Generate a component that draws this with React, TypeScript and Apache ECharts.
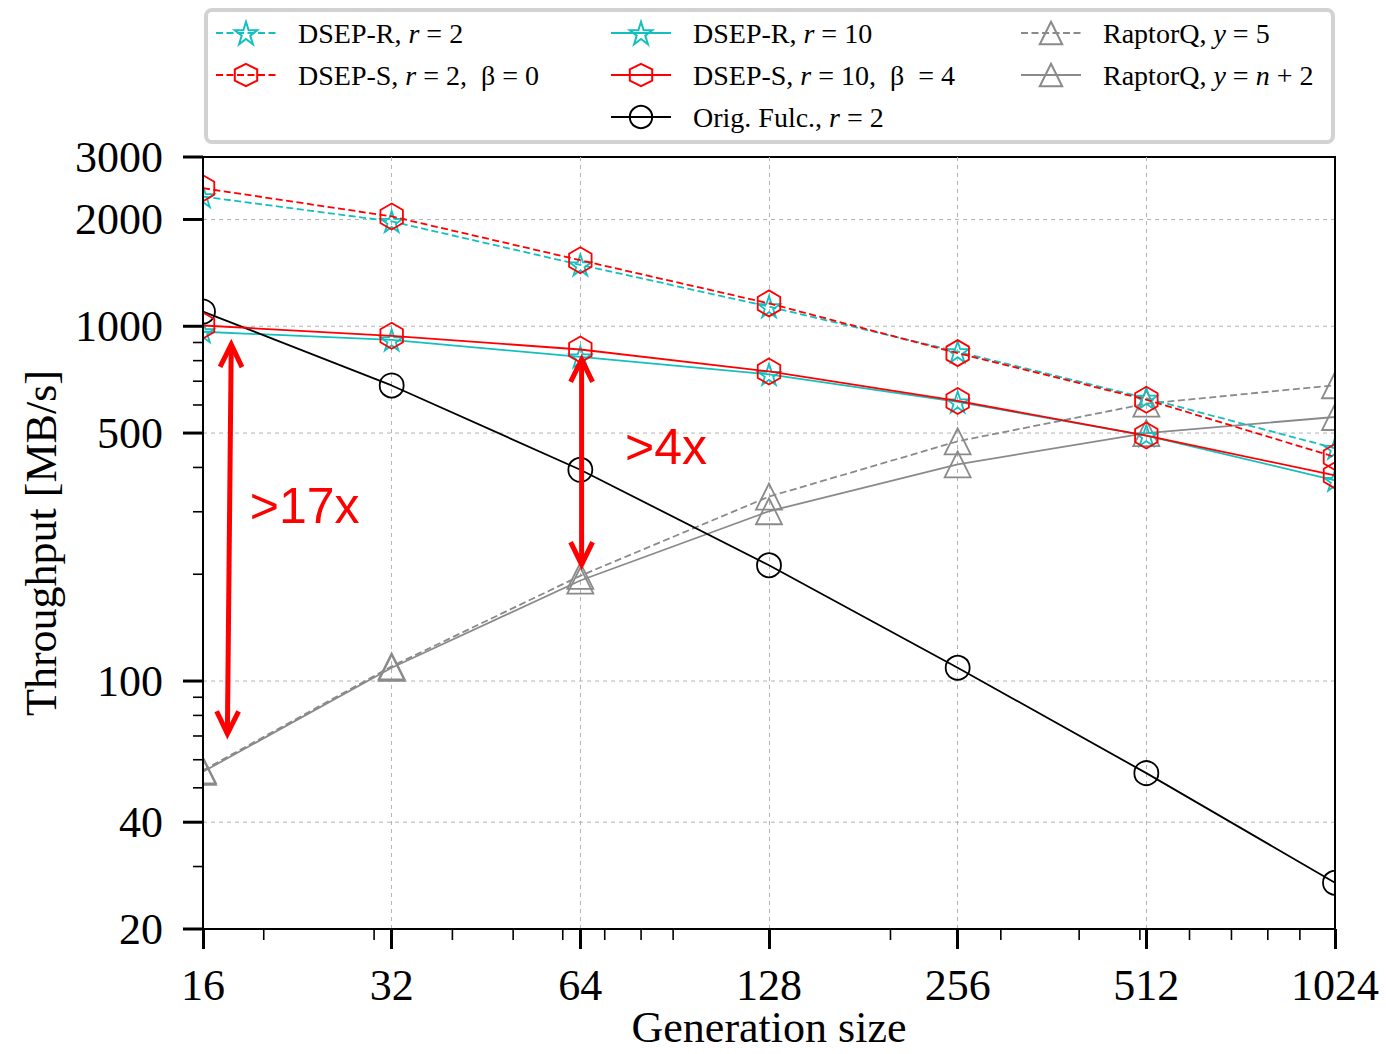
import React, { useEffect, useRef } from 'react';
import * as echarts from 'echarts';

// ---------- data ----------
const generationSizes = [16, 32, 64, 128, 256, 512, 1024];
const dsepR2 = [2320, 1975, 1490, 1136, 848, 627, 453];
const dsepS2 = [2450, 2040, 1535, 1160, 840, 621, 428];
const dsepR10 = [965, 915, 820, 732, 612, 492, 368];
const dsepS10 = [1005, 940, 860, 746, 616, 492, 380];
const origFulc = [1100, 681, 394, 212, 109, 55, 27];
const raptorQ5 = [56, 110, 198, 331, 474, 605, 682];
const raptorQn2 = [55.5, 109, 192, 301, 408, 500, 555];

const yMajorTicks = [20, 40, 100, 500, 1000, 2000, 3000];
const yGridValues = [40, 100, 500, 1000, 2000];
const yMinorTicks = [30, 50, 60, 70, 80, 90, 200, 300, 400, 600, 700, 800, 900];
const xMinorTicks = [20, 30, 40, 50, 60, 70, 80, 90, 200, 300, 400, 500, 600, 700, 800, 900];

const arrowXTop = [17.75, 64.3];
const arrowXBottom = [17.5, 64.3];
const arrowYTop = [888, 806];
const arrowYBottom = [71, 213];
const annotationTexts = ['>17x', '>4x'];
const annotationX = [19.0, 75.4];
const annotationY = [312, 458];

const CYAN = '#13bfbf';
const RED = '#ff0000';
const BLACK = '#000000';
const GRAY = '#8a8a8a';
const SERIF = 'Liberation Serif';

const HEX = 'path://M50,0 L93.3,25 L93.3,75 L50,100 L6.7,75 L6.7,25 Z';
const STAR =
  'path://M50,0 L61.2,34.5 L97.6,34.5 L68.2,55.9 L79.4,90.5 L50,69.1 L20.6,90.5 L31.8,55.9 L2.4,34.5 L38.8,34.5 Z';

const legendText: Record<string, string> = {
  'DSEP-R, r = 2': '{p|}DSEP-R, {i|r} = 2',
  'DSEP-S, r = 2, β = 0': '{p|}DSEP-S, {i|r} = 2,  β = 0',
  'DSEP-R, r = 10': '{p|}DSEP-R, {i|r} = 10',
  'DSEP-S, r = 10, β = 4': '{p|}DSEP-S, {i|r} = 10,  β  = 4',
  'Orig. Fulc., r = 2': '{p|}Orig. Fulc., {i|r} = 2',
  'RaptorQ, y = 5': '{p|}RaptorQ, {i|y} = 5',
  'RaptorQ, y = n + 2': '{p|}RaptorQ, {i|y} = {i|n} + 2',
};

function mkSeries(name: string, values: number[], color: string, symbol: string, dashed: boolean, size: number, z: number) {
  return {
    name,
    type: 'line',
    data: generationSizes.map((g, i) => [g, values[i]]),
    symbol,
    symbolSize: size,
    symbolKeepAspect: true,
    color,
    lineStyle: { color, width: 1.8, type: dashed ? [7, 3.5] : 'solid' },
    itemStyle: { color: 'rgba(255,255,255,0)', borderColor: color, borderWidth: 1.8 },
    emphasis: { disabled: true },
    z,
  };
}

function mkLegend(left: number, names: string[]) {
  return {
    orient: 'vertical',
    left,
    top: 19,
    padding: 0,
    itemGap: 14,
    itemWidth: 60,
    itemHeight: 28,
    selectedMode: false,
    data: names,
    formatter: (n: string) => legendText[n] ?? n,
    textStyle: {
      fontFamily: SERIF,
      fontSize: 28,
      color: '#000',
      rich: {
        p: { width: 17 },
        i: { fontFamily: SERIF, fontSize: 28, fontStyle: 'italic', color: '#000' },
      },
    },
  };
}

export default function App() {
  const ref = useRef<HTMLDivElement>(null);
  useEffect(() => {
    const chart = echarts.init(ref.current as HTMLDivElement, null, { renderer: 'svg' });
    const option: any = {
      animation: false,
      backgroundColor: '#ffffff',
      grid: {
        left: 203,
        right: 51,
        top: 157,
        bottom: 125,
        containLabel: false,
        outerBoundsMode: 'none',
        show: true,
        borderColor: '#000',
        borderWidth: 2,
        backgroundColor: 'transparent',
      },
      legend: [
        mkLegend(215, ['DSEP-R, r = 2', 'DSEP-S, r = 2, β = 0']),
        mkLegend(610, ['DSEP-R, r = 10', 'DSEP-S, r = 10, β = 4', 'Orig. Fulc., r = 2']),
        mkLegend(1020, ['RaptorQ, y = 5', 'RaptorQ, y = n + 2']),
      ],
      xAxis: {
        type: 'log',
        logBase: 2,
        min: 16,
        max: 1024,
        name: 'Generation size',
        nameLocation: 'middle',
        nameGap: 80,
        nameMoveOverlap: false,
        nameTextStyle: { fontFamily: SERIF, fontSize: 44, lineHeight: 36, color: '#000' },
        axisLine: { show: true, lineStyle: { color: '#000', width: 2 } },
        axisTick: { show: true, length: 20, lineStyle: { color: '#000', width: 3 } },
        axisLabel: {
          fontFamily: SERIF,
          fontSize: 44,
          color: '#000',
          margin: 34,
          formatter: (v: number) => String(Math.round(v)),
        },
        splitLine: { show: true, lineStyle: { color: '#b3b3b3', width: 1, type: [4, 4] } },
        minorTick: { show: false },
      },
      yAxis: {
        type: 'log',
        logBase: 10,
        min: 20,
        max: 3000,
        name: 'Throughput [MB/s]',
        nameLocation: 'middle',
        nameGap: 140,
        nameMoveOverlap: false,
        nameTextStyle: { fontFamily: SERIF, fontSize: 44, color: '#000' },
        axisLine: { show: true, lineStyle: { color: '#000', width: 2 } },
        axisTick: { show: false },
        axisLabel: { show: false },
        splitLine: { show: false },
      },
      series: [
        mkSeries('DSEP-R, r = 2', dsepR2, CYAN, STAR, true, 22, 3),
        mkSeries('DSEP-S, r = 2, β = 0', dsepS2, RED, HEX, true, 26, 4),
        mkSeries('DSEP-R, r = 10', dsepR10, CYAN, STAR, false, 22, 3),
        mkSeries('DSEP-S, r = 10, β = 4', dsepS10, RED, HEX, false, 26, 4),
        mkSeries('Orig. Fulc., r = 2', origFulc, BLACK, 'circle', false, 24, 3),
        mkSeries('RaptorQ, y = 5', raptorQ5, GRAY, 'triangle', true, 26, 2),
        mkSeries('RaptorQ, y = n + 2', raptorQn2, GRAY, 'triangle', false, 26, 2),
      ],
    };
    chart.setOption(option);

    const toPx = (x: number, y: number) => chart.convertToPixel({ gridIndex: 0 }, [x, y]) as number[];
    const [x0, yBottom] = toPx(16, 20);
    const [x1, yTop] = toPx(1024, 3000);
    const els: any[] = [];

    // legend frame
    els.push({
      type: 'rect',
      z: 1,
      shape: { x: 206, y: 10, width: 1127, height: 132, r: 6 },
      style: { fill: '#ffffff', stroke: '#d2d2d2', lineWidth: 4 },
    });

    // horizontal grid lines
    yGridValues.forEach((v) => {
      const [, py] = toPx(16, v);
      els.push({
        type: 'line',
        z: 1,
        shape: { x1: x0, y1: py, x2: x1, y2: py },
        style: { stroke: '#b3b3b3', lineWidth: 1, lineDash: [4, 4] },
      });
    });

    // white masks to clip markers at the plot edges
    els.push({ type: 'rect', z: 20, shape: { x: x0 - 30, y: yTop - 20, width: 29, height: yBottom - yTop + 18 }, style: { fill: '#ffffff' } });
    els.push({ type: 'rect', z: 20, shape: { x: x1 + 1, y: yTop - 20, width: 30, height: yBottom - yTop + 18 }, style: { fill: '#ffffff' } });
    // spines redrawn above the masks
    els.push({ type: 'line', z: 30, shape: { x1: x0, y1: yTop, x2: x0, y2: yBottom }, style: { stroke: '#000', lineWidth: 2 } });
    els.push({ type: 'line', z: 30, shape: { x1: x1, y1: yTop, x2: x1, y2: yBottom }, style: { stroke: '#000', lineWidth: 2 } });

    // y major ticks + labels
    yMajorTicks.forEach((v) => {
      const [, py] = toPx(16, v);
      els.push({ type: 'line', z: 30, shape: { x1: x0 - 20, y1: py, x2: x0, y2: py }, style: { stroke: '#000', lineWidth: 3 } });
      els.push({
        type: 'text',
        z: 30,
        x: x0 - 40,
        y: py,
        style: { text: String(v), fill: '#000', font: `44px "${SERIF}"`, textAlign: 'right', textVerticalAlign: 'middle' },
      });
    });
    // y minor ticks
    yMinorTicks.forEach((v) => {
      const [, py] = toPx(16, v);
      els.push({ type: 'line', z: 30, shape: { x1: x0 - 10, y1: py, x2: x0, y2: py }, style: { stroke: '#000', lineWidth: 1.6 } });
    });
    // x minor ticks
    xMinorTicks.forEach((v) => {
      const [px] = toPx(v, 20);
      els.push({ type: 'line', z: 30, shape: { x1: px, y1: yBottom, x2: px, y2: yBottom + 11 }, style: { stroke: '#000', lineWidth: 1.6 } });
    });

    // annotation arrows
    arrowXTop.forEach((_, k) => {
      const [tx, ty] = toPx(arrowXTop[k], arrowYTop[k]);
      const [bx, by] = toPx(arrowXBottom[k], arrowYBottom[k]);
      els.push({ type: 'line', z: 40, shape: { x1: tx, y1: ty, x2: bx, y2: by }, style: { stroke: RED, lineWidth: 5 } });
      const head = (px: number, py: number, qx: number, qy: number) => {
        const len = Math.hypot(qx - px, qy - py);
        const ux = (qx - px) / len;
        const uy = (qy - py) / len;
        const L = 25;
        const a = (26 * Math.PI) / 180;
        const c = Math.cos(a) * L;
        const s = Math.sin(a) * L;
        return [
          [px + ux * c - uy * s, py + uy * c + ux * s],
          [px, py],
          [px + ux * c + uy * s, py + uy * c - ux * s],
        ];
      };
      els.push({ type: 'polyline', z: 40, shape: { points: head(tx, ty, bx, by) }, style: { stroke: RED, lineWidth: 5, fill: 'none', lineJoin: 'miter' } });
      els.push({ type: 'polyline', z: 40, shape: { points: head(bx, by, tx, ty) }, style: { stroke: RED, lineWidth: 5, fill: 'none', lineJoin: 'miter' } });
    });
    annotationTexts.forEach((t, k) => {
      const [px, py] = toPx(annotationX[k], annotationY[k]);
      els.push({
        type: 'text',
        z: 40,
        x: px,
        y: py,
        style: { text: t, fill: RED, font: '50px "Liberation Sans"', textAlign: 'left', textVerticalAlign: 'middle' },
      });
    });

    chart.setOption({ graphic: { elements: els } });
    return () => chart.dispose();
  }, []);
  return <div ref={ref} style={{ position: 'absolute', left: 0, top: 0, width: 1386, height: 1054 }} />;
}
